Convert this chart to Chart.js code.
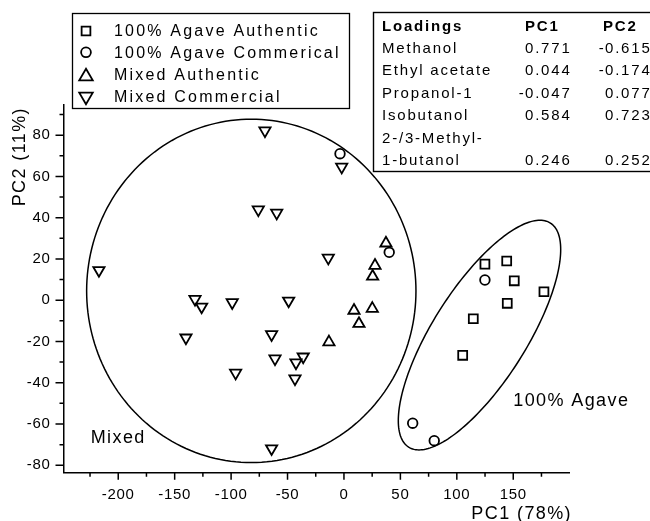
<!DOCTYPE html>
<html>
<head>
<meta charset="utf-8">
<script src="https://cdn.jsdelivr.net/npm/chart.js@4.4.1/dist/chart.umd.min.js"></script>
<style>
  html, body { margin: 0; padding: 0; background: #fff; }
  #wrap { position: relative; width: 650px; height: 521px; }
</style>
</head>
<body>
<div id="wrap"><canvas id="pcaChart" width="650" height="521"></canvas></div>
<script>
// PCA scores [PC1, PC2]
const agaveAuthentic = [[124.9, 17.5], [144.2, 19.0], [150.9, 9.4], [177.2, 4.1], [144.7, -1.5], [114.6, -9.0], [105.2, -26.7]];
const agaveCommercial = [[-3.5, 71.0], [40.1, 23.2], [124.9, 9.8], [60.9, -59.6], [80.0, -68.1]];
const mixedAuthentic = [[37.2, 27.6], [27.5, 16.8], [25.4, 11.5], [8.9, -5.0], [25.1, -4.1], [13.3, -11.4], [-13.3, -20.3]];
const mixedCommercial = [
  [-70.0, 82.2], [-75.9, 43.9], [-59.6, 42.3], [-13.9, 20.5], [-217.1, 14.5], [-132.0, 0.5],
  [-126.1, -3.2], [-99.0, -1.1], [-49.0, -0.3], [-140.0, -18.2], [-64.1, -16.6], [-61.1, -28.3],
  [-42.5, -30.3], [-36.1, -27.4], [-43.4, -38.0], [-96.0, -35.2], [-64.1, -71.9], [-2.0, 64.6]
];

const seriesNames = ['100% Agave Authentic', '100% Agave Commerical', 'Mixed Authentic', 'Mixed Commercial'];

// axis ticks
const xTicks = [-200, -150, -100, -50, 0, 50, 100, 150];
const yTicks = [-80, -60, -40, -20, 0, 20, 40, 60, 80];

// loadings table
const loadingNames = ['Methanol', 'Ethyl acetate', 'Propanol-1', 'Isobutanol', '2-/3-Methyl-\n1-butanol'];
const loadingPC1 = [0.771, 0.044, -0.047, 0.584, 0.246];
const loadingPC2 = [-0.615, -0.174, 0.077, 0.723, 0.252];

// group ellipses in data units: centre plus two conjugate semi-diameters
const groupEllipses = [
  { name: 'Mixed', c: [-82.1, 4.5], a: [145.9, 0], b: [0, 83.2], labelAt: [-224.4, -69.3] },
  { name: '100% Agave', c: [120.1, -16.9], a: [62.8, 54.3], b: [35.1, -12.2], labelAt: [150.0, -51.3] }
];

const FONT = "'Liberation Sans', Arial, sans-serif";
const toXY = arr => arr.map(p => ({ x: p[0], y: p[1] }));

const markerStyles = [
  { pointStyle: 'rect', rotation: 0, radius: 6.3 },
  { pointStyle: 'circle', rotation: 0, radius: 4.8 },
  { pointStyle: 'triangle', rotation: 0, radius: 6.5 },
  { pointStyle: 'triangle', rotation: 180, radius: 6.5 }
];

function mark(ctx, st, x, y, r) {
  ctx.save();
  ctx.strokeStyle = '#000';
  ctx.fillStyle = 'rgba(0,0,0,0)';
  ctx.lineWidth = 1.8;
  Chart.helpers.drawPoint(ctx, { pointStyle: st.pointStyle, rotation: st.rotation, radius: r || st.radius, borderWidth: 1.8 }, x, y);
  ctx.restore();
}

const extras = {
  id: 'extras',
  beforeDraw(chart) {
    chart.ctx.letterSpacing = '0.7px';
  },
  beforeDatasetsDraw(chart) {
    const ctx = chart.ctx;
    const xs = chart.scales.x, ys = chart.scales.y;
    ctx.save();
    ctx.strokeStyle = '#000';
    ctx.lineWidth = 1.5;

    // tick marks, major and minor, outward
    const bottom = ys.bottom, left = xs.left;
    ctx.beginPath();
    for (let v = -225; v <= 175; v += 25) {
      const px = xs.getPixelForValue(v);
      const len = v % 50 === 0 ? 7 : 4;
      ctx.moveTo(px, bottom); ctx.lineTo(px, bottom + len);
    }
    for (let v = -80; v <= 90; v += 10) {
      const py = ys.getPixelForValue(v);
      const len = v % 20 === 0 ? 8 : 4;
      ctx.moveTo(left, py); ctx.lineTo(left - len, py);
    }
    ctx.stroke();

    // ellipses
    groupEllipses.forEach(e => {
      ctx.beginPath();
      for (let i = 0; i <= 200; i++) {
        const t = i / 200 * Math.PI * 2;
        const vx = e.c[0] + e.a[0] * Math.cos(t) + e.b[0] * Math.sin(t);
        const vy = e.c[1] + e.a[1] * Math.cos(t) + e.b[1] * Math.sin(t);
        const px = xs.getPixelForValue(vx), py = ys.getPixelForValue(vy);
        if (i === 0) ctx.moveTo(px, py); else ctx.lineTo(px, py);
      }
      ctx.closePath();
      ctx.stroke();
    });

    // ellipse labels
    ctx.fillStyle = '#000';
    ctx.font = '18px ' + FONT;
    ctx.letterSpacing = '1.4px';
    ctx.textAlign = 'left';
    ctx.textBaseline = 'alphabetic';
    groupEllipses.forEach(e => {
      ctx.fillText(e.name, xs.getPixelForValue(e.labelAt[0]), ys.getPixelForValue(e.labelAt[1]));
    });

    // axis titles
    ctx.textAlign = 'right';
    ctx.fillText('PC1 (78%)', 572, 518.5);
    ctx.save();
    ctx.translate(25, 107);
    ctx.rotate(-Math.PI / 2);
    ctx.fillText('PC2 (11%)', 0, 0);
    ctx.restore();
    ctx.restore();
  },
  afterDraw(chart) {
    const ctx = chart.ctx;
    ctx.save();

    // legend box
    ctx.fillStyle = '#fff';
    ctx.fillRect(72, 13, 278, 95);
    ctx.strokeStyle = '#000';
    ctx.lineWidth = 1.3;
    ctx.strokeRect(72.5, 13.5, 277, 95);
    const legendBase = [36, 57.5, 80, 101.5];
    const legendMark = [31, 52.3, 76.5, 96.5];
    ctx.font = '16px ' + FONT;
    ctx.letterSpacing = '2.2px';
    ctx.fillStyle = '#000';
    ctx.textAlign = 'left';
    ctx.textBaseline = 'alphabetic';
    seriesNames.forEach((name, i) => {
      const st = markerStyles[i];
      const r = st.pointStyle === 'triangle' ? 7.8 : st.pointStyle === 'circle' ? 4.9 : 6.2;
      mark(ctx, st, 86, legendMark[i], r);
      ctx.fillStyle = '#000';
      ctx.fillText(name, 114, legendBase[i]);
    });

    // loadings table
    ctx.fillStyle = '#fff';
    ctx.fillRect(373, 12, 280, 160);
    ctx.strokeStyle = '#000';
    ctx.lineWidth = 1.4;
    ctx.strokeRect(373.5, 12.5, 290, 159);
    ctx.fillStyle = '#000';
    ctx.letterSpacing = '1.8px';
    ctx.font = 'bold 15px ' + FONT;
    const rowH = 22.4;
    let base = 30.5;
    ctx.fillText('Loadings', 382, base);
    ctx.fillText('PC1', 525, base);
    ctx.fillText('PC2', 603, base);
    ctx.font = '15px ' + FONT;
    const num = (v, x, y) => {
      const s = Math.abs(v).toFixed(3);
      ctx.textAlign = 'left';
      ctx.fillText(s, x, y);
      if (v < 0) {
        ctx.textAlign = 'right';
        ctx.fillText('-', x + 0.5, y);
      }
    };
    loadingNames.forEach((nm, i) => {
      const lines = nm.split('\n');
      lines.forEach(l => {
        base += rowH;
        ctx.textAlign = 'left';
        ctx.fillText(l, 382, base);
      });
      num(loadingPC1[i], 525, base);
      num(loadingPC2[i], 605, base);
    });
    ctx.restore();
  }
};

const ctx = document.getElementById('pcaChart').getContext('2d');
const groups = [agaveAuthentic, agaveCommercial, mixedAuthentic, mixedCommercial];

new Chart(ctx, {
  type: 'scatter',
  data: {
    datasets: groups.map((g, i) => ({
      label: seriesNames[i],
      data: toXY(g),
      pointStyle: markerStyles[i].pointStyle,
      rotation: markerStyles[i].rotation,
      pointRadius: markerStyles[i].radius,
      pointBorderWidth: 1.8,
      borderColor: '#000',
      backgroundColor: 'rgba(0,0,0,0)'
    }))
  },
  options: {
    responsive: false,
    animation: false,
    devicePixelRatio: 1,
    layout: { padding: { top: 105, right: 81, left: 0, bottom: 0 } },
    plugins: { legend: { display: false }, tooltip: { enabled: false } },
    scales: {
      x: {
        type: 'linear',
        min: -248.5,
        max: 199.4,
        afterBuildTicks(s) { s.ticks = xTicks.map(v => ({ value: v })); },
        afterFit(s) { s.height = 48.3; },
        grid: { display: false, drawTicks: false },
        border: { display: true, color: '#000', width: 1.5 },
        ticks: {
          color: '#000', padding: 13,
          maxRotation: 0, autoSkip: false, font: { family: FONT, size: 15 }
        }
      },
      y: {
        type: 'linear',
        min: -83.6,
        max: 94.6,
        afterBuildTicks(s) { s.ticks = yTicks.map(v => ({ value: v })); },
        afterFit(s) { s.width = 63.5; },
        grid: { display: false, drawTicks: false },
        border: { display: true, color: '#000', width: 1.5 },
        ticks: {
          color: '#000', padding: 13,
          autoSkip: false, font: { family: FONT, size: 15 }
        }
      }
    }
  },
  plugins: [extras]
});
</script>
</body>
</html>
